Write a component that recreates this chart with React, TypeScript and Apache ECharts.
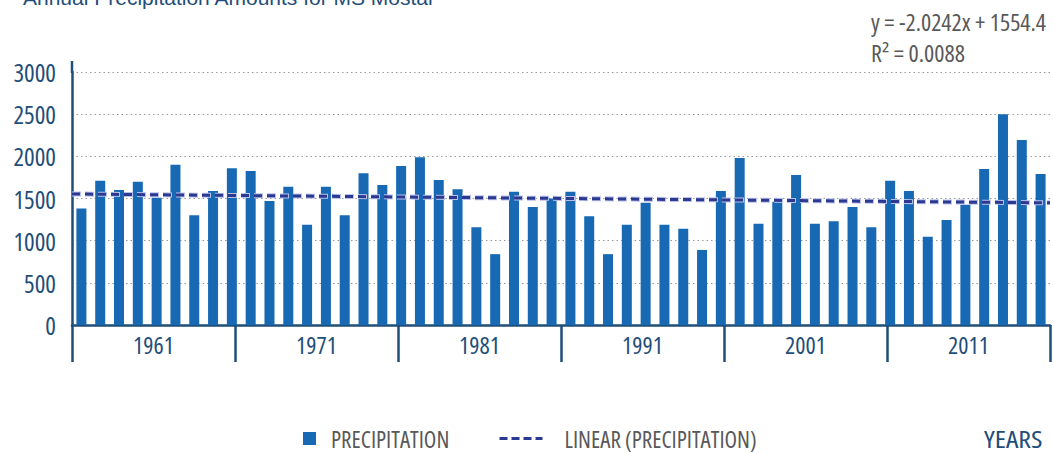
import React, { useEffect, useRef } from "react";
import * as echarts from "echarts";

const YEARS: string[] = [];
for (let y = 1961; y <= 2012; y++) YEARS.push(String(y));

const PRECIPITATION = [
  1380, 1710, 1600, 1700, 1510, 1900, 1300, 1590, 1860, 1825,
  1470, 1640, 1190, 1640, 1300, 1800, 1660, 1885, 1990, 1720,
  1610, 1160, 840, 1580, 1400, 1500, 1580, 1290, 840, 1190,
  1450, 1190, 1140, 890, 1590, 1980, 1200, 1460, 1780, 1200,
  1230, 1400, 1160, 1710, 1590, 1045, 1245, 1425, 1850, 2500,
  2195, 1790,
];

const DECADE_LABELS = ["1961", "1971", "1981", "1991", "2001", "2011"];
const Y_TICKS = { min: 0, max: 3000, interval: 500 };
const TREND_SLOPE = -2.0242;
const TREND_INTERCEPT = 1554.4;
const TITLE = "Annual Precipitation Amounts for MS Mostar";
const EQUATION = "y = -2.0242x + 1554.4";
const R2 = "R² = 0.0088";
const X_NAME = "YEARS";

const NARROW = "'Open Sans', 'DejaVu Sans Condensed', sans-serif; font-stretch: 75%";
const NAVY = "#1f4e79";
const BAR = "#1769b3";
const TREND = "#2b3990";
const GRAY = "#595959";

export default function App() {
  const ref = useRef<HTMLDivElement>(null);
  useEffect(() => {
    if (!ref.current) return;
    const chart = echarts.init(ref.current, undefined, { renderer: "svg" });
    const n = YEARS.length;
    const trendX0 = 0.5;
    const trendX1 = n + 0.5;
    const trendData = [
      [trendX0, TREND_SLOPE * trendX0 + TREND_INTERCEPT],
      [trendX1, TREND_SLOPE * trendX1 + TREND_INTERCEPT],
    ];
    chart.setOption({
      animation: false,
      grid: { left: 72, right: 3, top: 72, bottom: 128, containLabel: false },
      title: {
        text: TITLE,
        left: 18,
        top: -18,
        textStyle: { fontFamily: "'Liberation Sans', Arial, sans-serif", fontSize: 21, fontWeight: "normal", color: NAVY },
      },
      legend: [
        {
          left: 303,
          top: 428,
          padding: 0,
          itemWidth: 13,
          itemHeight: 13,
          data: [{ name: "PRECIPITATION", icon: "rect" }],
          textStyle: { fontFamily: NARROW, fontSize: 23, color: GRAY, padding: [0, 0, 0, 10] },
        },
        {
          left: 498,
          top: 428,
          padding: 0,
          itemWidth: 43,
          itemHeight: 13,
          data: [{ name: "LINEAR (PRECIPITATION)", itemStyle: { opacity: 0 } }],
          lineStyle: { color: TREND, width: 3, type: [8, 4] },
          textStyle: { fontFamily: NARROW, fontSize: 23, color: GRAY, padding: [0, 0, 0, 17] },
        },
      ],
      xAxis: [
        {
          type: "category",
          data: YEARS,
          gridIndex: 0,
          axisLine: { show: true, lineStyle: { color: NAVY, width: 2.5 } },
          axisTick: { show: false },
          axisLabel: { show: false },
          splitLine: { show: false },
        },
        {
          type: "category",
          data: DECADE_LABELS,
          gridIndex: 0,
          position: "bottom",
          boundaryGap: true,
          axisLine: { show: false },
          axisTick: { show: true, length: 37, lineStyle: { color: NAVY, width: 2.5 } },
          axisLabel: { interval: 0, margin: 14, fontFamily: NARROW, fontSize: 24, color: NAVY },
          splitLine: { show: false },
        },
        { type: "value", gridIndex: 0, min: 0.5, max: n + 0.5, show: false },
      ],
      yAxis: {
        type: "value",
        min: Y_TICKS.min,
        max: Y_TICKS.max,
        interval: Y_TICKS.interval,
        axisLine: { show: true, lineStyle: { color: NAVY, width: 2.5 } },
        axisTick: { show: false },
        axisLabel: { margin: 16, fontFamily: NARROW, fontSize: 25, color: NAVY, formatter: (v: number) => String(v) },
        splitLine: { show: true, lineStyle: { color: "#9a9a9a", width: 1, type: [1.5, 3] } },
      },
      series: [
        { name: "PRECIPITATION", type: "bar", xAxisIndex: 0, data: PRECIPITATION, barWidth: 10, itemStyle: { color: BAR } },
        {
          type: "line", xAxisIndex: 2, data: trendData, symbol: "none", silent: true,
          lineStyle: { color: "#b9c1ea", width: 5, type: [9, 4], dashOffset: -0.5 },
        },
        {
          name: "LINEAR (PRECIPITATION)", type: "line", xAxisIndex: 2, data: trendData, symbol: "none",
          itemStyle: { color: TREND }, lineStyle: { color: TREND, width: 3, type: [8, 5] },
        },
      ],
      graphic: [
        { type: "line", shape: { x1: 72, y1: 61, x2: 72, y2: 73 }, style: { stroke: NAVY, lineWidth: 2.5 } },
        {
          type: "text", x: 871, y: 21,
          style: { text: EQUATION, fontFamily: NARROW, fontSize: 24, fill: GRAY, align: "left", verticalAlign: "middle" },
        },
        {
          type: "text", x: 871, y: 52,
          style: { text: R2, fontFamily: NARROW, fontSize: 24, fill: GRAY, align: "left", verticalAlign: "middle" },
        },
        {
          type: "text", x: 984, y: 439, scaleX: 1.22,
          style: { text: X_NAME, fontFamily: NARROW, fontSize: 23, fill: NAVY, align: "left", verticalAlign: "middle" },
        },
      ],
    });
    return () => chart.dispose();
  }, []);
  return <div ref={ref} style={{ position: "fixed", left: 0, top: 0, width: 1053, height: 453, background: "#fff" }} />;
}
